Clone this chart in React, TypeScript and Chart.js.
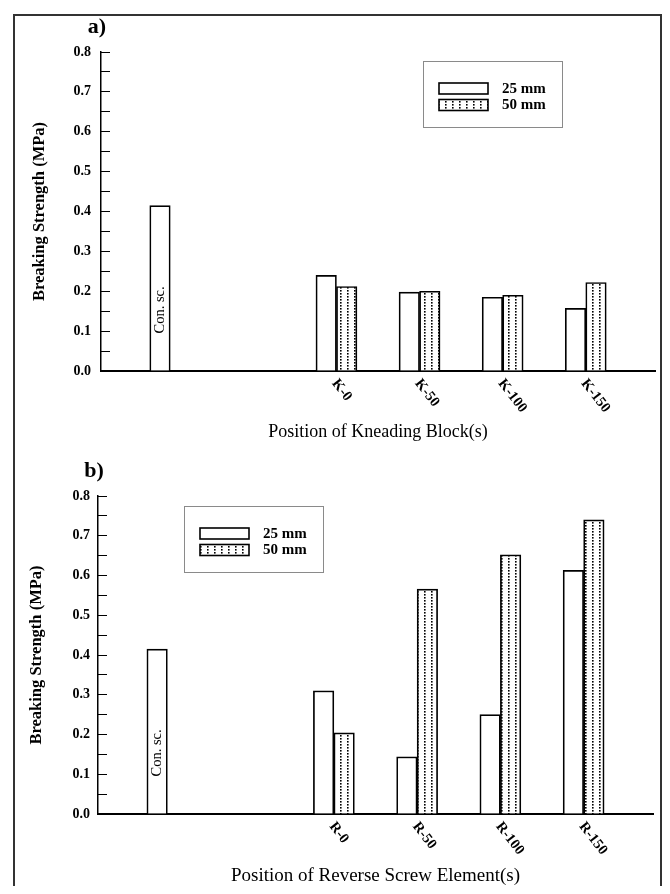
import React, { useEffect, useRef } from "react";
import { Chart, registerables } from "chart.js";

Chart.register(...registerables);

const FONT = "'Liberation Serif', 'Times New Roman', Times, serif";
Chart.defaults.font.family = FONT;
Chart.defaults.color = "#000";

// ---------- data ----------
const controlLabel = "Con. sc.";
const seriesLabels = ["25 mm", "50 mm"];
const yTickLabels = ["0.0", "0.1", "0.2", "0.3", "0.4", "0.5", "0.6", "0.7", "0.8"];

// panel a) kneading blocks
const controlValueA = 0.415;
const kneadingCategories = ["K-0", "K-50", "K-100", "K-150"];
const kneading25 = [0.24, 0.198, 0.185, 0.157];
const kneading50 = [0.212, 0.2, 0.19, 0.222];

// panel b) reverse screw elements
const controlValueB = 0.415;
const reverseCategories = ["R-0", "R-50", "R-100", "R-150"];
const reverse25 = [0.31, 0.144, 0.25, 0.613];
const reverse50 = [0.204, 0.566, 0.652, 0.74];

// ---------- slot layout on the category axis (blank categories used as spacers) ----------
const SLOT_COUNT = 20;
const CONTROL_SLOT = 2;
const FIRST_GROUP_SLOT = 8;
const GROUP_STEP = 3;

function buildSlots(control: number, cats: string[], s25: number[], s50: number[]) {
  const labels: string[] = new Array(SLOT_COUNT).fill("");
  const con: (number | null)[] = new Array(SLOT_COUNT).fill(null);
  const a: (number | null)[] = new Array(SLOT_COUNT).fill(null);
  const b: (number | null)[] = new Array(SLOT_COUNT).fill(null);
  labels[CONTROL_SLOT] = controlLabel;
  con[CONTROL_SLOT] = control;
  cats.forEach((c, i) => {
    const s = FIRST_GROUP_SLOT + i * GROUP_STEP;
    labels[s] = c;
    a[s] = s25[i];
    b[s] = s50[i];
  });
  return { labels, con, a, b };
}

function makeDotPattern(): CanvasPattern | string {
  const c = document.createElement("canvas");
  c.width = 7;
  c.height = 3;
  const g = c.getContext("2d");
  if (!g) return "#fff";
  g.fillStyle = "#fff";
  g.fillRect(0, 0, 7, 3);
  g.fillStyle = "#000";
  g.fillRect(3, 1, 1.6, 1.6);
  const p = g.createPattern(c, "repeat");
  return p || "#fff";
}

// ---------- plugins ----------
const panelPlugin = {
  id: "panelDecor",
  afterDatasetsDraw(chart: any) {
    const { ctx } = chart;
    const ds = chart.data.datasets;
    // control label inside its bar
    const meta0 = chart.getDatasetMeta(0);
    meta0.data.forEach((el: any, i: number) => {
      const v = ds[0].data[i];
      if (v == null) return;
      ctx.save();
      ctx.translate(el.x, el.base - 37);
      ctx.rotate(-Math.PI / 2);
      ctx.textAlign = "left";
      ctx.textBaseline = "middle";
      ctx.fillStyle = "#000";
      ctx.font = `14.5px ${FONT}`;
      ctx.fillText(ds[0].label, 0, 0);
      ctx.restore();
    });
  },
  afterDraw(chart: any, _args: any, opts: any) {
    const { ctx, chartArea, scales } = chart;
    const ds = chart.data.datasets;
    const xs = scales.x;
    // rotated category labels
    chart.data.labels.forEach((lab: string, i: number) => {
      if (!lab) return;
      if (ds[1].data[i] == null && ds[2].data[i] == null) return;
      const px = xs.getPixelForValue(i);
      ctx.save();
      ctx.translate(px - 2, chartArea.bottom + 10);
      ctx.rotate((52 * Math.PI) / 180);
      ctx.textAlign = "left";
      ctx.textBaseline = "middle";
      ctx.fillStyle = "#000";
      ctx.font = `bold 14.5px ${FONT}`;
      ctx.fillText(lab, 0, 0);
      ctx.restore();
    });
    // panel letter
    ctx.save();
    ctx.fillStyle = "#000";
    ctx.font = `bold 22px ${FONT}`;
    ctx.textAlign = "center";
    ctx.textBaseline = "middle";
    ctx.fillText(opts.letter, chartArea.left - 4, chartArea.top - 25);
    ctx.restore();
    // legend box
    const lx = chartArea.left + opts.legendDx;
    const ly = chartArea.top + opts.legendDy;
    ctx.save();
    ctx.strokeStyle = "#8a8a8a";
    ctx.lineWidth = 1;
    ctx.strokeRect(lx + 0.5, ly + 0.5, 139, 66);
    [ds[1], ds[2]].forEach((d: any, i: number) => {
      const sy = ly + 22 + i * 16.5;
      ctx.fillStyle = d.backgroundColor;
      ctx.fillRect(lx + 16, sy, 49, 11);
      ctx.strokeStyle = "#000";
      ctx.lineWidth = 1.6;
      ctx.strokeRect(lx + 16, sy, 49, 11);
      ctx.fillStyle = "#000";
      ctx.font = `bold 15px ${FONT}`;
      ctx.textAlign = "left";
      ctx.textBaseline = "middle";
      ctx.fillText(d.label, lx + 79, sy + 6);
    });
    ctx.restore();
  },
};

type PanelCfg = {
  top: number;
  height: number;
  letter: string;
  control: number;
  cats: string[];
  s25: number[];
  s50: number[];
  xTitle: string;
  xTitleSize: number;
  padTop: number;
  padRight: number;
  yWidth: number;
  xHeight: number;
  yTitlePad: number;
  xTitlePad: number;
  tickPad: number;
  legendDx: number;
  legendDy: number;
};

const PANEL_WIDTH = 645;

function Panel({ cfg }: { cfg: PanelCfg }) {
  const ref = useRef<HTMLCanvasElement>(null);
  useEffect(() => {
    if (!ref.current) return;
    const slots = buildSlots(cfg.control, cfg.cats, cfg.s25, cfg.s50);
    const pattern = makeDotPattern();
    const common = {
      borderColor: "#000",
      borderWidth: 1.7,
      barThickness: 20.5,
    };
    const chart = new Chart(ref.current, {
      type: "bar",
      data: {
        labels: slots.labels,
        datasets: [
          { ...common, label: controlLabel, data: slots.con, backgroundColor: "#fff", stack: "a" },
          { ...common, label: seriesLabels[0], data: slots.a, backgroundColor: "#fff", stack: "a" },
          { ...common, label: seriesLabels[1], data: slots.b, backgroundColor: pattern as any, stack: "b" },
        ],
      },
      options: {
        animation: false,
        responsive: true,
        maintainAspectRatio: false,
        events: [],
        layout: { padding: { top: cfg.padTop, right: cfg.padRight, left: 0, bottom: 0 } },
        plugins: {
          legend: { display: false },
          tooltip: { enabled: false },
          panelDecor: { letter: cfg.letter, legendDx: cfg.legendDx, legendDy: cfg.legendDy },
        } as any,
        scales: {
          x: {
            type: "category",
            offset: true,
            grid: { display: false, drawTicks: false },
            border: { display: true, color: "#000", width: 2 },
            ticks: { display: false },
            title: {
              display: true,
              text: cfg.xTitle,
              font: { size: cfg.xTitleSize, weight: "normal", family: FONT, lineHeight: 1 },
              color: "#000",
              padding: { top: 0, bottom: cfg.xTitlePad },
            },
            afterFit: (s: any) => {
              s.height = cfg.xHeight;
            },
          },
          y: {
            type: "linear",
            min: 0,
            max: 0.8,
            stacked: false,
            grid: {
              display: true,
              drawOnChartArea: false,
              drawTicks: true,
              tickLength: -9,
              color: "#000",
              lineWidth: 1,
            },
            border: { display: true, color: "#000", width: 1.5 },
            ticks: {
              stepSize: 0.05,
              autoSkip: false,
              padding: cfg.tickPad,
              color: "#000",
              font: { size: 14, weight: "bold", family: FONT },
              callback: (v: any) => {
                const k = Math.round(Number(v) * 100);
                if (k % 10 !== 0) return "";
                return yTickLabels[k / 10] ?? "";
              },
            },
            title: {
              display: true,
              text: "Breaking Strength (MPa)",
              font: { size: 16.5, weight: "bold", family: FONT },
              color: "#000",
              padding: { top: cfg.yTitlePad, bottom: 0 },
            },
            afterFit: (s: any) => {
              s.width = cfg.yWidth;
            },
          },
        },
      } as any,
      plugins: [panelPlugin as any],
    });
    return () => chart.destroy();
  }, []);
  return (
    <div style={{ position: "absolute", left: 0, top: cfg.top, width: PANEL_WIDTH, height: cfg.height }}>
      <canvas ref={ref} style={{ display: "block" }} />
    </div>
  );
}

// page: body margin 8 -> frame at (13,14); frame content starts at (15,16)
const panelA: PanelCfg = {
  top: 0,
  height: 430,
  letter: "a)",
  control: controlValueA,
  cats: kneadingCategories,
  s25: kneading25,
  s50: kneading50,
  xTitle: "Position of Kneading Block(s)",
  xTitleSize: 18,
  padTop: 36,
  padRight: 5,
  yWidth: 86,
  xHeight: 75,
  yTitlePad: 15,
  xTitlePad: 5,
  tickPad: 19,
  legendDx: 322,
  legendDy: 9,
};

const panelB: PanelCfg = {
  top: 430,
  height: 440,
  letter: "b)",
  control: controlValueB,
  cats: reverseCategories,
  s25: reverse25,
  s50: reverse50,
  xTitle: "Position of Reverse Screw Element(s)",
  xTitleSize: 19,
  padTop: 50,
  padRight: 7,
  yWidth: 83,
  xHeight: 72,
  yTitlePad: 12,
  xTitlePad: 0,
  tickPad: 17,
  legendDx: 86,
  legendDy: 10,
};

export default function App() {
  return (
    <div style={{ paddingTop: 6, paddingLeft: 5, width: 654, boxSizing: "border-box" }}>
      <div
        style={{
          position: "relative",
          width: 649,
          height: 872,
          boxSizing: "border-box",
          borderTop: "2px solid #333",
          borderLeft: "2px solid #333",
          borderRight: "2px solid #333",
          background: "#fff",
        }}
      >
        <Panel cfg={panelA} />
        <Panel cfg={panelB} />
      </div>
    </div>
  );
}
